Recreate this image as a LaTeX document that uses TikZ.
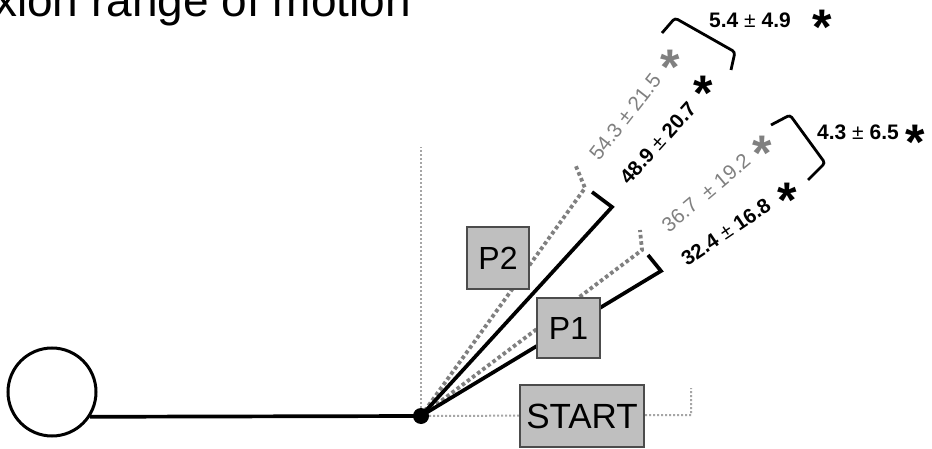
\documentclass[tikz,border=0pt]{standalone}
\usepackage{fontspec}
\setmainfont{Liberation Sans}
\begin{document}
\begin{tikzpicture}[x=1pt,y=-1pt,
  blk/.style={line width=3.7pt,black},
  gdot/.style={line width=3.8pt,color=black!50,dash pattern=on 3.6pt off 2.8pt},
  refdot/.style={line width=2pt,color=black!35,dash pattern=on 2pt off 2pt},
  box/.style={draw=black!70,fill=black!25,line width=1.2pt,inner sep=0pt,font=\fontsize{32}{36}\selectfont},
  glab/.style={text=black!50,font=\fontsize{20.5}{24}\selectfont,inner sep=0pt},
  blab/.style={text=black,font=\bfseries\fontsize{20.5}{24}\selectfont,inner sep=0pt},
  star/.style={font=\bfseries\fontsize{50}{50}\selectfont,inner sep=0pt,anchor=base},
  brk/.style={line width=2.8pt,rounded corners=3pt}
]
\fill[white] (0,0) rectangle (932,449);
\useasboundingbox (0,0) rectangle (932,449);
\begin{scope}
\clip (0,0) rectangle (932,449);
\node[anchor=base west,inner sep=0pt,font=\fontsize{46}{50}\selectfont] (title) at (-6,17) {xion range of motion};
\end{scope}
% coordinates
\coordinate (O) at (421,416);
\coordinate (Vtop) at (421,147);
\coordinate (Hend) at (691,415);
\coordinate (Hup) at (691,388);
\coordinate (S2) at (612,207);
\coordinate (T2) at (592,192);
\coordinate (D2) at (585,188);
\coordinate (U2) at (575,164);
\coordinate (S1) at (661,271);
\coordinate (T1) at (648,255);
\coordinate (D1) at (642,250);
\coordinate (U1) at (640,230);
% reference lines
\draw[refdot] (O) -- (Vtop);
\draw[refdot] (O) -- (Hend) -- (Hup);
% angle lines
\draw[gdot] (O) -- (D2) -- (U2);
\draw[gdot] (O) -- (D1) -- (U1);
\draw[blk] (O) -- (S2) -- (T2);
\draw[blk] (O) -- (S1) -- (T1);
% ball and arm
\node[circle,draw,line width=3pt,minimum size=88pt,inner sep=0pt] (ball) at (52,392) {};
\draw[blk] (ball.-33) -- (O);
\node[circle,fill=black,minimum size=16pt,inner sep=0pt] (pivot) at (O) {};
% boxes
\node[box,font=\fontsize{35}{40}\selectfont,minimum width=124pt,minimum height=62pt] (start) at (582,416) {START};
\node[box,minimum width=63pt,minimum height=60pt] (p1) at (568.5,328) {P1};
\node[box,minimum width=62pt,minimum height=62pt] (p2) at (498,258) {P2};
% labels
\node[glab,rotate=52] (l1) at (625,117) {54.3 ± 21.5};
\node[blab,rotate=48] (l2) at (658,143) {48.9 {\mdseries ±} 20.7};
\node[glab,rotate=40] (l3) at (706,193) {36.7 \ ± 19.2};
\node[blab,rotate=34] (l4) at (726,232) {32.4 {\mdseries ±} 16.8};
% stars
\node[star,text=black!50] (s1) at (670,85) {*};
\node[star] (s2) at (703,111) {*};
\node[star,text=black!50] (s3) at (762,171) {*};
\node[star] (s4) at (787,218) {*};
\node[star] (s5) at (822,45) {*};
\node[star] (s6) at (915,160) {*};
% brackets
\draw[brk] (662,33) -- (675,18) -- (735,52) -- (731,70);
\draw[brk] (771,125) -- (790,115) -- (825,163) -- (808,180);
\node[blab,font=\bfseries\fontsize{21}{24}\selectfont] (d1) at (750,20) {5.4 {\mdseries ±} 4.9};
\node[blab,font=\bfseries\fontsize{21}{24}\selectfont] (d2) at (858,132) {4.3 {\mdseries ±} 6.5};
\end{tikzpicture}
\end{document}
